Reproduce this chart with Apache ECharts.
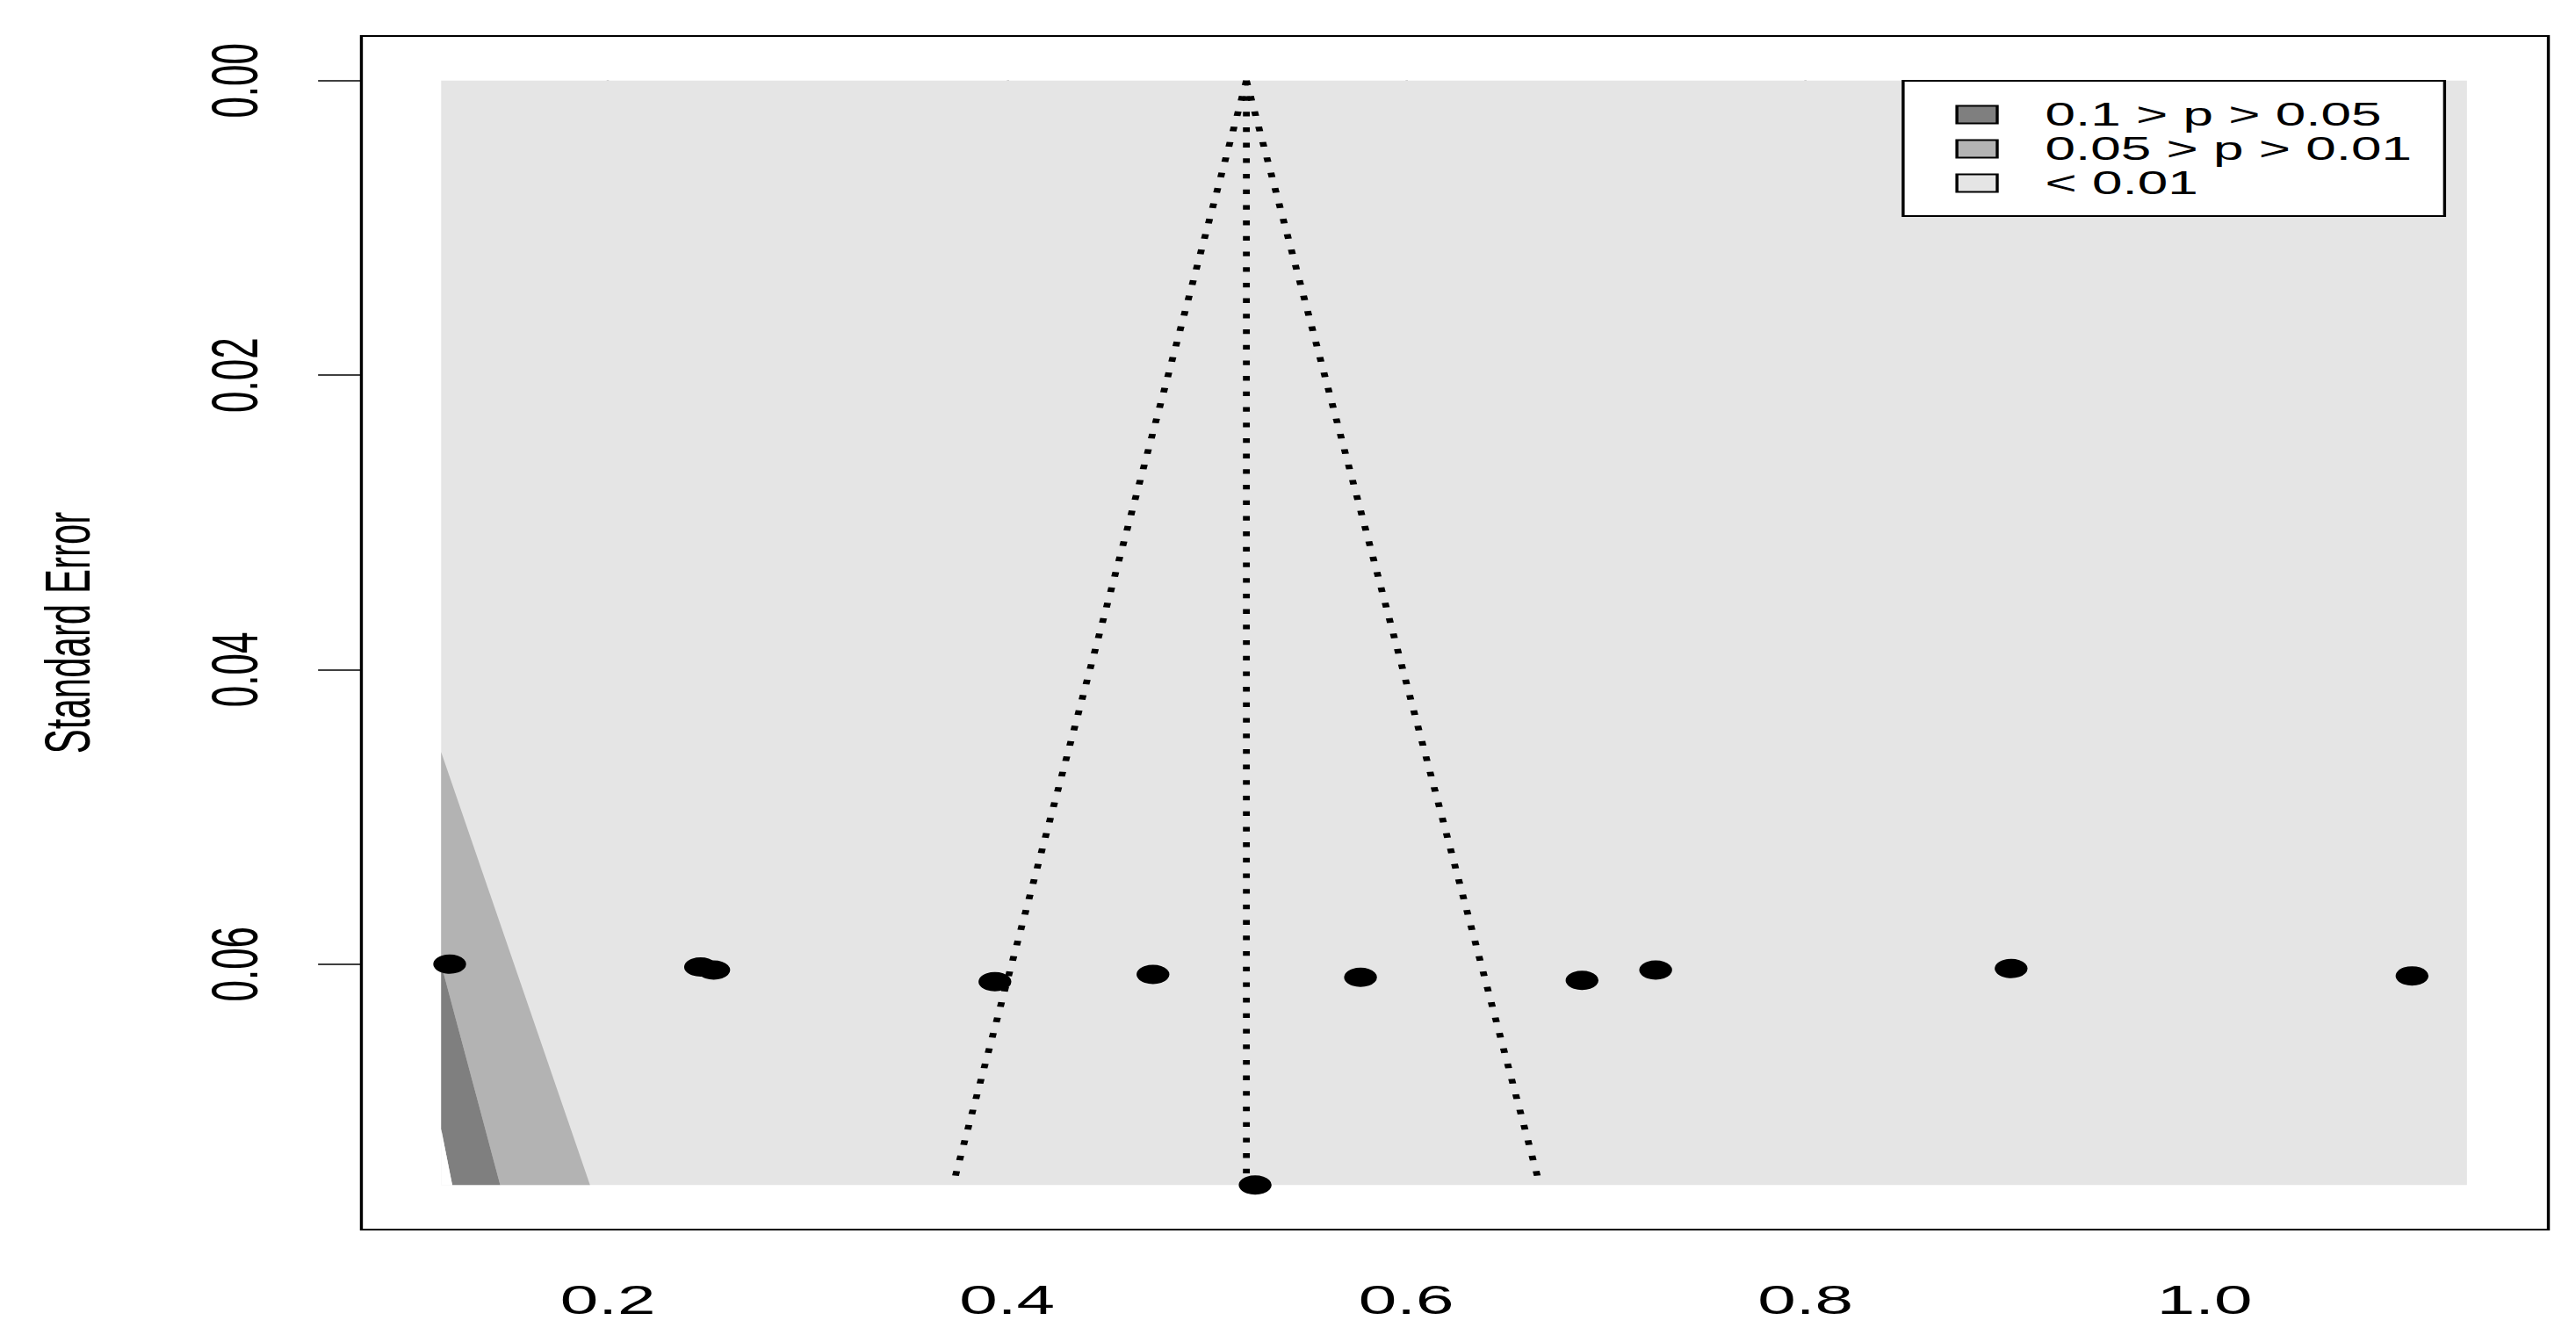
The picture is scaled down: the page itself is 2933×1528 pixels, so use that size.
<!DOCTYPE html>
<html>
<head>
<meta charset="utf-8">
<title>Contour-enhanced funnel plot</title>
<script src="https://cdn.jsdelivr.net/npm/echarts@6/dist/echarts.min.js"></script>
<style>
  html, body { margin: 0; padding: 0; background: #fff; overflow: hidden; }
  /* the reference is stretched sideways, so the chart is drawn narrow and widened */
  #main { width: 1725px; height: 1528px; transform: scaleX(1.70029); transform-origin: 0 0; }
</style>
</head>
<body>
<div id="main"></div>
<script>
// axis ticks
const xTicks = [0.2, 0.4, 0.6, 0.8, 1.0];
const seTicks = [0, 0.02, 0.04, 0.06];

// studies: effect size and standard error
const studyEffect = [0.1207, 0.2464, 0.2530, 0.3939, 0.4731, 0.5243, 0.5771, 0.6881, 0.7250, 0.9031, 1.1040];
const studySE = [0.0600, 0.0602, 0.0604, 0.0612, 0.0607, 0.0750, 0.0609, 0.0611, 0.0604, 0.0603, 0.0608];

// pooled estimate and its 95% funnel
const pooledLine = [[0.5199, 0], [0.5199, 0.075]];
const funnelLeft = [[0.5199, 0], [0.3729, 0.075]];
const funnelRight = [[0.5199, 0], [0.6669, 0.075]];

// significance contours (effect, SE) around zero
const contourNames = ["0.1 > p > 0.05", "0.05 > p > 0.01", "< 0.01"];
const contourColors = ["#7f7f7f", "#b3b3b3", "#e5e5e5"];
const regionP01 = [[0.1164, 0], [1.1315, 0], [1.1315, 0.075], [0.1164, 0.075]];
const regionP05 = [[0.1164, 0.0456], [0.191, 0.075], [0.146, 0.075], [0.1164, 0.0600]];
const regionP10 = [[0.1164, 0.0600], [0.146, 0.075], [0.122, 0.075], [0.1164, 0.0712]];
const regionNS = [[0.1164, 0.0712], [0.122, 0.075], [0.1164, 0.075]];

const font = "Liberation Sans";

function regionSeries(name, pts, color) {
  return {
    type: "custom",
    name: name,
    data: pts,
    encode: { x: 0, y: 1 },
    itemStyle: { color: color },
    silent: true,
    z: 1,
    renderItem: function (params, api) {
      if (params.dataIndex !== 0) return;
      const points = pts.map(function (p) { return api.coord(p); });
      return { type: "polygon", shape: { points: points }, style: { fill: color } };
    },
  };
}

function dottedLine(pts) {
  return {
    type: "line",
    data: pts,
    symbol: "none",
    silent: true,
    z: 3,
    lineStyle: { color: "#000", width: 4.6, type: [5.3, 12.4], cap: "butt" },
  };
}

const chart = echarts.init(document.getElementById("main"), null, { renderer: "svg" });

const option = {
  animation: false,
  backgroundColor: "#fff",
  grid: {
    left: 242,
    right: 18.5,
    top: 41,
    bottom: 128,
    show: true,
    borderColor: "#000",
    borderWidth: 2,
    backgroundColor: "transparent",
  },
  legend: {
    orient: "vertical",
    right: 88,
    top: 92,
    backgroundColor: "#fff",
    borderColor: "#000",
    borderWidth: 2,
    borderRadius: 0,
    padding: [20, 22, 19, 35],
    itemWidth: 27,
    itemHeight: 20,
    itemGap: 2,
    icon: "rect",
    selectedMode: false,
    data: contourNames,
    itemStyle: { borderColor: "#000", borderWidth: 2 },
    textStyle: { fontFamily: font, fontSize: 36.5, color: "#000", padding: [0, 0, 0, 27] },
  },
  xAxis: {
    type: "value",
    min: 0.07644,
    max: 1.1723,
    splitLine: { show: false },
    axisLine: { show: false },
    axisTick: { show: true, customValues: xTicks, length: 28, lineStyle: { color: "#000", width: 1.5 } },
    axisLabel: {
      customValues: xTicks,
      margin: 57,
      fontFamily: font,
      fontSize: 46,
      color: "#000",
      formatter: function (v) { return v.toFixed(1); },
    },
  },
  yAxis: {
    type: "value",
    inverse: true,
    min: -0.00303,
    max: 0.07803,
    splitLine: { show: false },
    axisLine: { show: false },
    axisTick: { show: true, customValues: seTicks, length: 29, lineStyle: { color: "#000", width: 1.5 } },
    axisLabel: {
      customValues: seTicks,
      rotate: 90,
      margin: 63,
      fontFamily: font,
      fontSize: 44,
      color: "#000",
      formatter: function (v) { return v.toFixed(2); },
    },
    name: "Standard Error",
    nameLocation: "middle",
    nameRotate: 90,
    nameGap: 176,
    nameTextStyle: { fontFamily: font, fontSize: 42, color: "#000" },
  },
  series: [
    regionSeries(contourNames[2], regionP01, contourColors[2]),
    regionSeries(contourNames[1], regionP05, contourColors[1]),
    regionSeries(contourNames[0], regionP10, contourColors[0]),
    regionSeries("p > 0.1", regionNS, "#ffffff"),
    dottedLine(pooledLine),
    dottedLine(funnelLeft),
    dottedLine(funnelRight),
    {
      type: "scatter",
      data: studyEffect.map(function (x, i) { return [x, studySE[i]]; }),
      symbol: "circle",
      symbolSize: 22,
      itemStyle: { color: "#000", opacity: 1 },
      silent: true,
      z: 4,
    },
  ],
};

chart.setOption(option);
</script>
</body>
</html>
